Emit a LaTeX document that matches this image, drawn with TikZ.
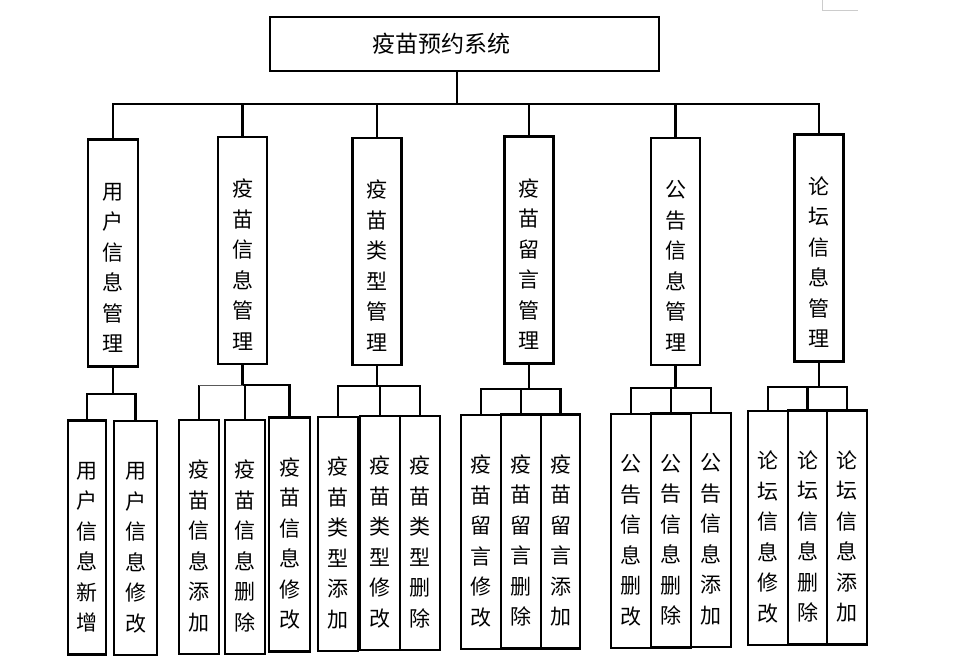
\documentclass[tikz,border=0pt]{standalone}
\usepackage{fontspec}
\newfontfamily\cjk{Noto Sans CJK SC}
\usetikzlibrary{positioning}

\begin{document}
\begin{tikzpicture}[x=1pt, y=-1pt, line width=2.2pt,
  box/.style={draw, rectangle, inner sep=0pt, text width=30pt, align=center,
    font=\cjk\fontsize{21}{30.5}\selectfont},
  head/.style={draw, rectangle, inner sep=0pt, minimum width=389pt, minimum height=54pt,
    font=\cjk\fontsize{23}{26}\selectfont},
  mid/.style={box, minimum width=49pt, minimum height=227pt,
    execute at begin node={\\[15pt]}},
  leaf/.style={box, minimum width=40pt, minimum height=234pt,
    execute at begin node={\\[5pt]}}]
\useasboundingbox (0,0) rectangle (960,660);
\draw[gray!40, line width=0.8pt] (822,0) -- (822,10) -- (858,10);

\node[head] (top) at (464.5,44) {\raisebox{-3pt}{疫苗预约系统}\kern46pt};

\node[mid, minimum width=50pt] (m1) at (113,253) {用\\户\\信\\息\\管\\理};
\node[mid] (m2) at (242.5,250.5) {疫\\苗\\信\\息\\管\\理};
\node[mid] (m3) at (377,251.5) {疫\\苗\\类\\型\\管\\理};
\node[mid] (m4) at (529,250) {疫\\苗\\留\\言\\管\\理};
\node[mid] (m5) at (675.5,251.5) {公\\告\\信\\息\\管\\理};
\node[mid] (m6) at (819,248) {论\\坛\\信\\息\\管\\理};

% leaves
\node[leaf, minimum width=38pt] (a1) at (87,537.5) {用\\户\\信\\息\\新\\增};
\node[leaf, minimum width=43pt] (a2) at (135.5,538) {用\\户\\信\\息\\修\\改};
\node[leaf] (b1) at (199,537) {疫\\苗\\信\\息\\添\\加};
\node[leaf] (b2) at (245,537) {疫\\苗\\信\\息\\删\\除};
\node[leaf, minimum width=41pt] (b3) at (289.5,534.5) {疫\\苗\\信\\息\\修\\改};
\node[leaf] (c1) at (338,534) {疫\\苗\\类\\型\\添\\加};
\node[leaf] (c2) at (380,533) {疫\\苗\\类\\型\\修\\改};
\node[leaf] (c3) at (420,533) {疫\\苗\\类\\型\\删\\除};
\node[leaf] (d1) at (481,532) {疫\\苗\\留\\言\\修\\改};
\node[leaf] (d2) at (521,531.5) {疫\\苗\\留\\言\\删\\除};
\node[leaf, minimum width=39pt] (d3) at (560.5,531.5) {疫\\苗\\留\\言\\添\\加};
\node[leaf] (e1) at (631,531) {公\\告\\信\\息\\删\\改};
\node[leaf] (e2) at (671,530.5) {公\\告\\信\\息\\删\\除};
\node[leaf] (e3) at (711,530) {公\\告\\信\\息\\添\\加};
\node[leaf] (f1) at (768,528) {论\\坛\\信\\息\\修\\改};
\node[leaf, minimum width=39pt] (f2) at (807.5,527.5) {论\\坛\\信\\息\\删\\除};
\node[leaf] (f3) at (847,527.5) {论\\坛\\信\\息\\添\\加};

% top level
\coordinate (t) at (457,104);
\draw (top.south -| t) -- (t);
\draw (m1.north) |- (t) -| (m6.north);
\foreach \n in {m2,m3,m4,m5}
  \draw (\n.north) -- (\n.north |- t);

% second level
\draw (m1.south) -- ++(0,26) coordinate (j1);
\draw (a1.north) |- (j1) -| (a2.north);
\draw (m2.south) -- ++(0,20) coordinate (j2);
\draw (b1.north) -- (b1.north |- j2);
\draw[line width=1pt, gray!70!black] (b1.north |- j2) -- (j2);
\draw (j2) -| (b3.north);
\draw (b2.north) -- (b2.north |- j2);
\draw (m3.south) -- ++(0,20) coordinate (j3);
\draw (c1.north) |- (j3) -| (c3.north);
\draw (c2.north) -- (c2.north |- j3);
\draw (m4.south) -- ++(0,24) coordinate (j4);
\draw (d1.north) |- (j4) -| (d3.north);
\draw (d2.north) -- (d2.north |- j4);
\draw (m5.south) -- ++(0,22) coordinate (j5);
\draw (e1.north) |- (j5) -| (e3.north);
\draw (e2.north) -- (e2.north |- j5);
\draw (m6.south) -- ++(0,24) coordinate (j6);
\draw (f1.north) |- (j6) -| (f3.north);
\draw (f2.north) -- (f2.north |- j6);
\end{tikzpicture}
\end{document}
